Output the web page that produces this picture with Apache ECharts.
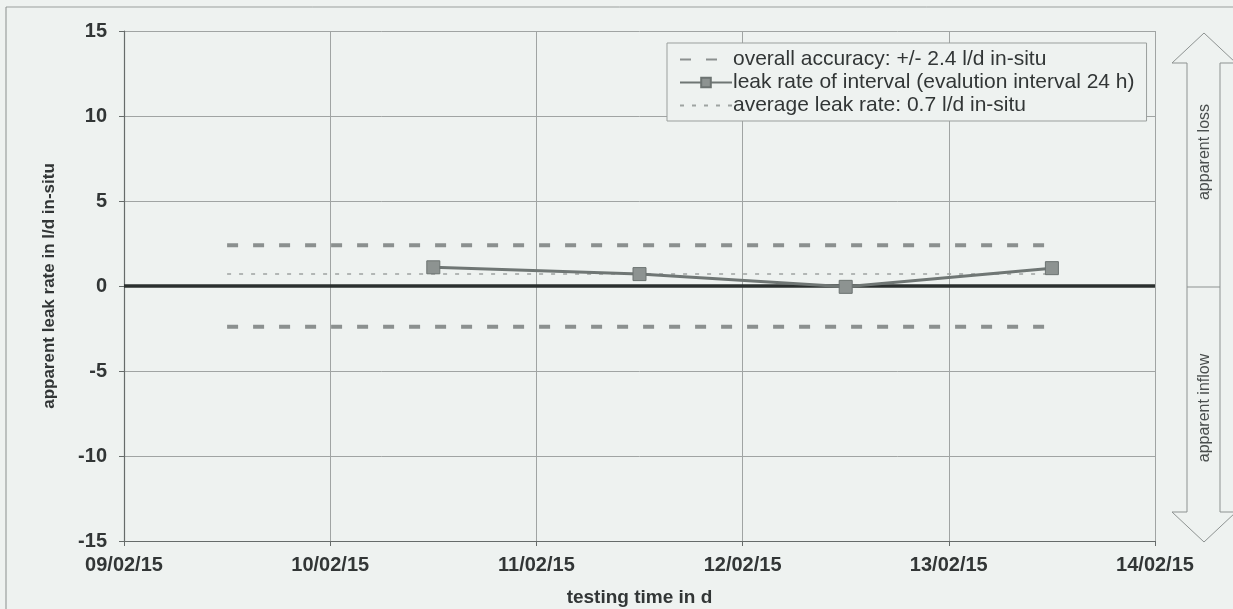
<!DOCTYPE html>
<html>
<head>
<meta charset="utf-8">
<title>Apparent leak rate</title>
<script src="https://cdn.jsdelivr.net/npm/echarts@6/dist/echarts.min.js"></script>
<style>
  html, body { margin: 0; padding: 0; background: #eef2f0; }
  #chart { width: 1233px; height: 609px; }
</style>
</head>
<body>
<div id="chart"></div>
<script>
// ---- data ----
const axisStart = '2015-02-09 00:00';
const axisEnd = '2015-02-14 00:00';
const tickLabels = ['09/02/15', '10/02/15', '11/02/15', '12/02/15', '13/02/15', '14/02/15'];
const yTicks = [-15, -10, -5, 0, 5, 10, 15];

const leakTimes = ['2015-02-10 12:00', '2015-02-11 12:00', '2015-02-12 12:00', '2015-02-13 12:00'];
const leakRates = [1.1, 0.7, -0.05, 1.05];

const accuracy = 2.4;            // l/d in-situ
const averageRate = 0.7;         // l/d in-situ
const bandTimes = ['2015-02-09 12:00', '2015-02-13 12:00'];

const seriesNames = [
  'overall accuracy: +/- 2.4 l/d in-situ',
  'leak rate of interval (evalution interval 24 h)',
  'average leak rate: 0.7 l/d in-situ'
];

// ---- helpers ----
const DAY = 86400000;
function toMs(s) {
  const [d, t] = s.split(' ');
  const [Y, M, D] = d.split('-').map(Number);
  const [h, m] = t.split(':').map(Number);
  return Date.UTC(Y, M - 1, D, h, m);
}
const xMin = toMs(axisStart);
const xMax = toMs(axisEnd);

const leakData = leakTimes.map((t, i) => [toMs(t), leakRates[i]]);
const upperData = bandTimes.map(t => [toMs(t), accuracy]);
const lowerData = bandTimes.map(t => [toMs(t), -accuracy]);
const avgData = bandTimes.map(t => [toMs(t), averageRate]);
const zeroData = [[xMin, 0], [xMax, 0]];

const FONT = '"Liberation Sans", Arial, sans-serif';
const BG = '#eef2f0';
const TEXT = '#323636';

const chart = echarts.init(document.getElementById('chart'), null, { renderer: 'canvas' });

chart.setOption({
  backgroundColor: BG,
  animation: false,
  textStyle: { fontFamily: FONT },
  grid: { left: 124, right: 78, top: 31, bottom: 68, containLabel: false, outerBoundsMode: 'none' },
  legend: {
    data: [
      { name: seriesNames[0], itemStyle: { opacity: 0 } },
      { name: seriesNames[1] },
      { name: seriesNames[2], itemStyle: { opacity: 0 } }
    ],
    orient: 'vertical',
    left: 667,
    top: 43,
    itemWidth: 52,
    itemHeight: 12,
    itemGap: 2,
    padding: [6, 12, 5, 12],
    backgroundColor: BG,
    borderColor: '#9a9f9d',
    borderWidth: 1,
    textStyle: { fontFamily: FONT, fontSize: 21, color: TEXT, padding: [0, 0, 0, -4] }
  },
  xAxis: {
    type: 'value',
    min: xMin,
    max: xMax,
    interval: DAY,
    name: 'testing time in d',
    nameLocation: 'middle',
    nameGap: 47,
    nameTextStyle: { fontFamily: FONT, fontSize: 19, fontWeight: 'bold', color: TEXT },
    axisLine: { show: true, onZero: false, lineStyle: { color: '#666b6a', width: 1.2 } },
    axisTick: { show: true, length: 5, lineStyle: { color: '#666b6a' } },
    axisLabel: {
      margin: 14,
      fontFamily: FONT, fontSize: 20, fontWeight: 'bold', color: TEXT,
      formatter: v => tickLabels[Math.round((v - xMin) / DAY)] || ''
    },
    splitLine: { show: true, lineStyle: { color: '#a0a4a3', width: 1 } }
  },
  yAxis: {
    type: 'value',
    min: yTicks[0],
    max: yTicks[yTicks.length - 1],
    interval: 5,
    name: 'apparent leak rate in l/d in-situ',
    nameLocation: 'middle',
    nameGap: 66,
    nameTextStyle: { fontFamily: FONT, fontSize: 17, fontWeight: 'bold', color: TEXT },
    axisLine: { show: true, onZero: false, lineStyle: { color: '#666b6a', width: 1.2 } },
    axisTick: { show: true, length: 5, lineStyle: { color: '#666b6a' } },
    axisLabel: {
      margin: 17,
      fontFamily: FONT, fontSize: 20, fontWeight: 'bold', color: TEXT
    },
    splitLine: { show: true, lineStyle: { color: '#a0a4a3', width: 1 } }
  },
  series: [
    {
      name: 'zero',
      type: 'line',
      data: zeroData,
      symbol: 'none',
      silent: true,
      z: 2,
      lineStyle: { color: '#2b302f', width: 3.5 }
    },
    {
      name: seriesNames[0],
      type: 'line',
      data: upperData,
      symbol: 'none',
      z: 3,
      itemStyle: { color: '#8b908f' },
      lineStyle: { color: '#8b908f', width: 4, type: [11, 15] }
    },
    {
      name: seriesNames[0],
      type: 'line',
      data: lowerData,
      symbol: 'none',
      z: 3,
      itemStyle: { color: '#8b908f' },
      lineStyle: { color: '#8b908f', width: 4, type: [11, 15] }
    },
    {
      name: seriesNames[2],
      type: 'line',
      data: avgData,
      symbol: 'none',
      z: 3,
      itemStyle: { color: '#9ea3a1' },
      lineStyle: { color: '#9ea3a1', width: 1.5, type: [4, 8] }
    },
    {
      name: seriesNames[1],
      type: 'line',
      data: leakData,
      symbol: 'rect',
      symbolSize: 13,
      z: 4,
      itemStyle: { color: '#8d9391', borderColor: '#6c7371', borderWidth: 1 },
      lineStyle: { color: '#6f7674', width: 3 }
    }
  ],
  graphic: [
    // outer frame
    { type: 'line', shape: { x1: 6, y1: 7, x2: 1233, y2: 7 }, style: { stroke: '#9a9f9d', lineWidth: 1 }, silent: true },
    { type: 'line', shape: { x1: 6, y1: 7, x2: 6, y2: 609 }, style: { stroke: '#8a8f8d', lineWidth: 1 }, silent: true },
    // double arrow: loss / inflow
    {
      type: 'polyline',
      shape: { points: [[1187, 287], [1187, 63], [1172, 63], [1204, 33], [1236, 63], [1220, 63], [1220, 287]] },
      style: { stroke: '#8d9291', lineWidth: 1, fill: null },
      silent: true
    },
    {
      type: 'polyline',
      shape: { points: [[1187, 287], [1187, 512], [1172, 512], [1204, 542], [1236, 512], [1220, 512], [1220, 287]] },
      style: { stroke: '#8d9291', lineWidth: 1, fill: null },
      silent: true
    },
    { type: 'line', shape: { x1: 1187, y1: 287, x2: 1220, y2: 287 }, style: { stroke: '#8d9291', lineWidth: 1 }, silent: true },
    {
      type: 'text', x: 1205, y: 152, rotation: Math.PI / 2,
      style: { text: 'apparent loss', fill: '#4a4f4e', font: '16px ' + FONT, align: 'center', verticalAlign: 'middle' },
      silent: true
    },
    {
      type: 'text', x: 1205, y: 408, rotation: Math.PI / 2,
      style: { text: 'apparent inflow', fill: '#4a4f4e', font: '16px ' + FONT, align: 'center', verticalAlign: 'middle' },
      silent: true
    }
  ]
});
</script>
</body>
</html>
